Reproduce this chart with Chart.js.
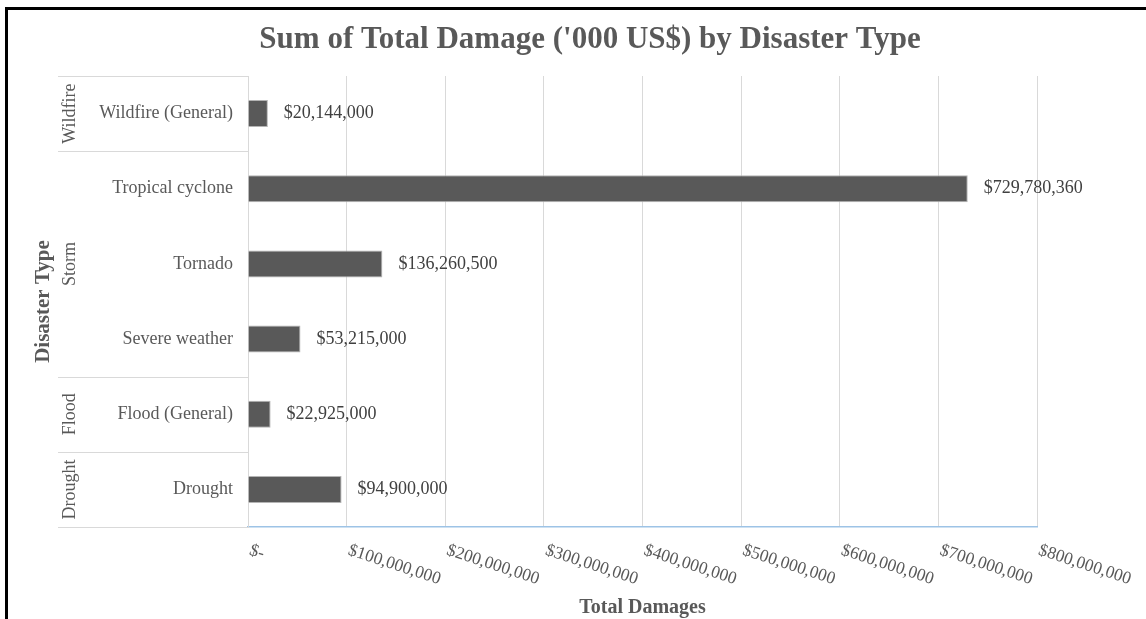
<!DOCTYPE html>
<html>
<head>
<meta charset="utf-8">
<title>Total Damage by Disaster Type</title>
<script src="https://cdn.jsdelivr.net/npm/chart.js@4.4.1/dist/chart.umd.min.js"></script>
<style>
  html, body { margin: 0; padding: 0; background: #fff; }
  #wrap { position: relative; width: 1146px; height: 619px; overflow: hidden; background: #fff; }
  #frame { position: absolute; left: 5px; top: 7px; right: -10px; bottom: -10px;
           border-left: 3px solid #000; border-top: 3px solid #000; pointer-events: none; }
  canvas { position: absolute; left: 0; top: 0; }
</style>
</head>
<body>
<div id="wrap">
  <canvas id="damageChart" width="1146" height="619"></canvas>
  <div id="frame"></div>
</div>
<script>
// Disaster groups and subtypes, top to bottom
const groups = ['Wildfire', 'Storm', 'Storm', 'Storm', 'Flood', 'Drought'];
const types = ['Wildfire (General)', 'Tropical cyclone', 'Tornado', 'Severe weather', 'Flood (General)', 'Drought'];
const damages = [20144000, 729780360, 136260500, 53215000, 22925000, 94900000];
const tickValues = [0, 100000000, 200000000, 300000000, 400000000, 500000000, 600000000, 700000000, 800000000];

const SERIF = "'Liberation Serif', 'Times New Roman', serif";
const TEXT = '#595959';
const LINE = '#d9d9d9';

function money(v) {
    return v === 0 ? '$-' : '$' + v.toLocaleString('en-US');
}

// Titles, grouped category column, rotated x ticks and bar value labels
const decorations = {
    id: 'decorations',
    afterDraw(chart) {
        const ctx = chart.ctx;
        const x = chart.scales.x;
        const y = chart.scales.y;
        const area = chart.chartArea;
        ctx.save();

        // chart title
        ctx.fillStyle = TEXT;
        ctx.font = 'bold 31px ' + SERIF;
        ctx.textAlign = 'center';
        ctx.textBaseline = 'middle';
        ctx.fillText("Sum of Total Damage ('000 US$) by Disaster Type", 590, 40);

        // x tick labels, slanted downwards
        ctx.font = '17.5px ' + SERIF;
        ctx.textAlign = 'left';
        ctx.textBaseline = 'middle';
        x.ticks.forEach(function (t) {
            const px = x.getPixelForValue(t.value);
            ctx.save();
            ctx.translate(px + 2, area.bottom + 23);
            ctx.rotate(18 * Math.PI / 180);
            ctx.fillText(money(t.value), 0, 0);
            ctx.restore();
        });

        // x axis title
        ctx.font = 'bold 20px ' + SERIF;
        ctx.textAlign = 'center';
        ctx.fillText('Total Damages', (area.left + area.right) / 2, 608);

        // y axis title
        ctx.save();
        ctx.translate(44, (area.top + area.bottom) / 2);
        ctx.rotate(-Math.PI / 2);
        ctx.font = 'bold 21px ' + SERIF;
        ctx.fillText('Disaster Type', 0, 0);
        ctx.restore();

        // group separators and group labels
        const half = Math.abs(y.getPixelForValue(1) - y.getPixelForValue(0)) / 2;
        ctx.strokeStyle = LINE;
        ctx.lineWidth = 1;
        ctx.font = '18px ' + SERIF;
        let start = 0;
        for (let i = 1; i <= groups.length; i++) {
            if (i === groups.length || groups[i] !== groups[start]) {
                const top = y.getPixelForValue(start) - half;
                const bottom = y.getPixelForValue(i - 1) + half;
                ctx.beginPath();
                ctx.moveTo(58, Math.round(top) + 0.5);
                ctx.lineTo(area.left, Math.round(top) + 0.5);
                if (i === groups.length) {
                    ctx.moveTo(58, Math.round(bottom) + 0.5);
                    ctx.lineTo(area.left, Math.round(bottom) + 0.5);
                }
                ctx.stroke();
                ctx.save();
                ctx.translate(70, (top + bottom) / 2);
                ctx.rotate(-Math.PI / 2);
                ctx.fillStyle = TEXT;
                ctx.fillText(groups[start], 0, 0);
                ctx.restore();
                start = i;
            }
        }

        // value labels at bar ends
        ctx.fillStyle = '#404040';
        ctx.font = '18px ' + SERIF;
        ctx.textAlign = 'left';
        ctx.textBaseline = 'middle';
        chart.getDatasetMeta(0).data.forEach(function (bar, i) {
            ctx.fillText(money(damages[i]), bar.x + 16, bar.y);
        });

        ctx.restore();
    }
};

new Chart(document.getElementById('damageChart'), {
    type: 'bar',
    data: {
        labels: types,
        datasets: [{
            label: 'Total Damages',
            data: damages,
            backgroundColor: '#595959',
            borderColor: '#b4b4b4',
            borderWidth: 1,
            categoryPercentage: 1,
            barPercentage: 0.36
        }]
    },
    options: {
        indexAxis: 'y',
        responsive: false,
        animation: false,
        layout: { padding: { top: 76, right: 109, bottom: 0, left: 0 } },
        plugins: {
            legend: { display: false },
            tooltip: { enabled: false },
            title: { display: false }
        },
        scales: {
            x: {
                min: 0,
                max: 800000000,
                afterBuildTicks: function (scale) {
                    scale.ticks = tickValues.map(function (v) { return { value: v }; });
                },
                afterFit: function (scale) { scale.height = 92; },
                ticks: { display: false },
                grid: { color: LINE, lineWidth: 1, drawTicks: false },
                border: { display: true, color: '#9dc3e6', width: 1.5 }
            },
            y: {
                afterFit: function (scale) { scale.width = 248; },
                ticks: {
                    color: TEXT,
                    padding: 15,
                    font: { family: SERIF, size: 18 }
                },
                grid: { display: false, drawTicks: false },
                border: { display: true, color: LINE }
            }
        }
    },
    plugins: [decorations]
});
</script>
</body>
</html>
